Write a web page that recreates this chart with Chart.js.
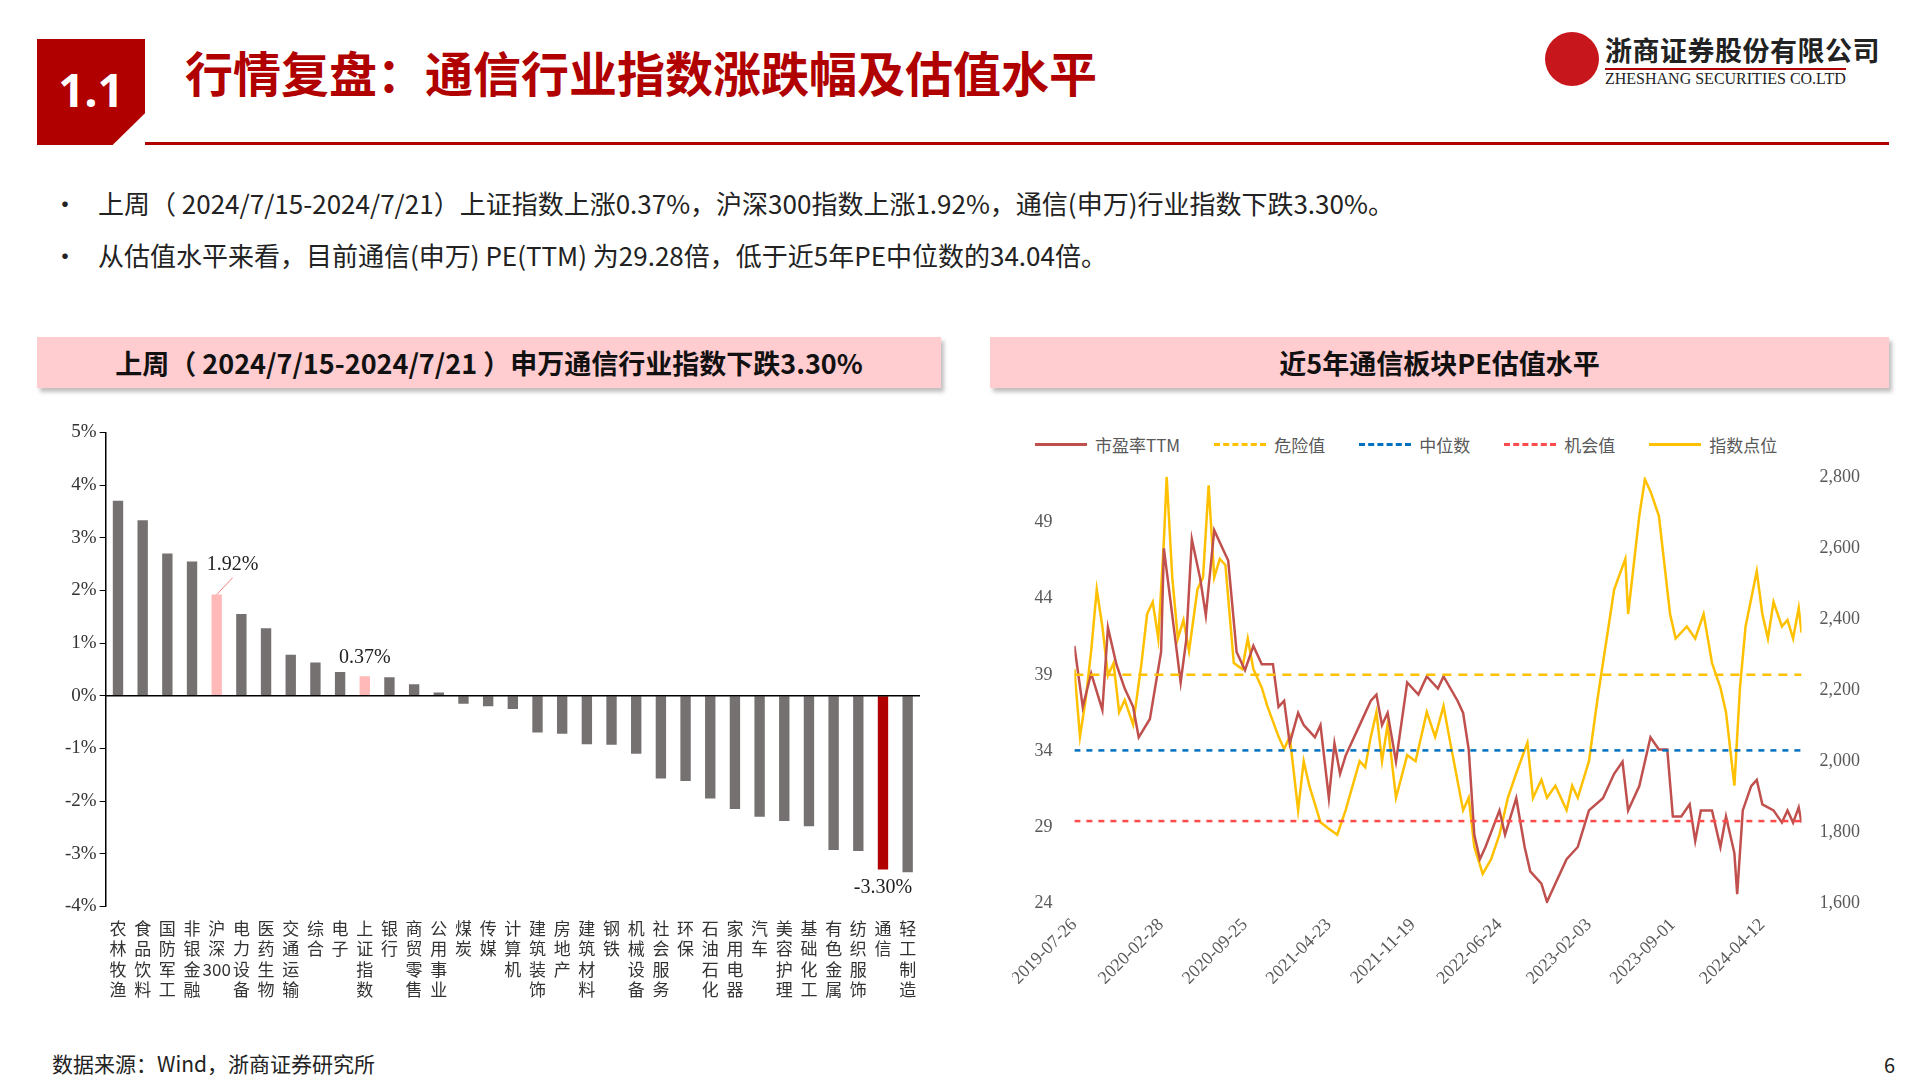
<!DOCTYPE html>
<html>
<head>
<meta charset="utf-8">
<script src="https://cdn.jsdelivr.net/npm/chart.js@4.4.1/dist/chart.umd.min.js"></script>
<style>
  body { margin: 0; width: 1920px; height: 1080px; background: #fff; font-family: "Noto Sans CJK SC", sans-serif; position: relative; overflow: hidden; }
  .abs { position: absolute; }
  #secbox { left: 37px; top: 39px; width: 108px; height: 106px; background: #b00000; color: #fff; font: bold 46px "Noto Sans", sans-serif; line-height: 100px; text-align: center; clip-path: polygon(0 0,100% 0,100% 70%,70% 100%,0 100%); }
  #title { left: 185px; top: 36px; font-size: 48px; font-weight: bold; color: #b00000; }
  #rule { left: 145px; top: 142px; width: 1744px; height: 3px; background: #b00000; }
  #logo { left: 1545px; top: 32px; }
  #logo .cn { position: absolute; left: 60px; top: -2px; font-size: 27px; font-weight: bold; color: #222; white-space: nowrap; letter-spacing: 0.5px; }
  #logo .en { position: absolute; left: 60px; top: 36px; font: 16px "Liberation Serif", serif; color: #222; white-space: nowrap; border-top: 2px solid #b00000; }
  #logo .mark { position: absolute; left: 0; top: 0; width: 54px; height: 54px; border-radius: 50%; background: #c8161d; }
  .bullet { left: 52px; font-size: 26px; color: #222; }
  .bullet span { display: inline-block; width: 46px; }
  .hdr { top: 337px; height: 51px; background: #ffccd0; box-shadow: 3px 4px 4px rgba(0,0,0,0.25); font-size: 27px; font-weight: bold; color: #111; text-align: center; line-height: 51px; }
  #legend { left: 1035px; top: 432px; font: 17px "Noto Sans CJK SC", sans-serif; color: #595959; display: flex; gap: 34px; }
  #legend div { display: flex; align-items: center; gap: 8px; }
  #legend i { display: inline-block; width: 52px; border-top-width: 3px; }
  #foot { left: 52px; top: 1048px; font-size: 21px; color: #222; }
  #pg { left: 1884px; top: 1050px; font-size: 20px; color: #222; }
</style>
</head>
<body>
<div id="secbox" class="abs">1.1</div>
<div id="title" class="abs">行情复盘：通信行业指数涨跌幅及估值水平</div>
<div id="rule" class="abs"></div>
<div id="logo" class="abs"><div class="mark"></div><div class="cn">浙商证券股份有限公司</div><div class="en">ZHESHANG SECURITIES CO.LTD</div></div>
<div class="abs bullet" style="top:184px"><span>•</span>上周（ 2024/7/15-2024/7/21）上证指数上涨0.37%，沪深300指数上涨1.92%，通信(申万)行业指数下跌3.30%。</div>
<div class="abs bullet" style="top:236px"><span>•</span>从估值水平来看，目前通信(申万) PE(TTM) 为29.28倍，低于近5年PE中位数的34.04倍。</div>
<div class="abs hdr" style="left:37px;width:904px">上周（ 2024/7/15-2024/7/21 ）申万通信行业指数下跌3.30%</div>
<div class="abs hdr" style="left:990px;width:899px">近5年通信板块PE估值水平</div>
<div id="legend" class="abs">
  <div><i style="border-top-style:solid;border-color:#c0504d"></i>市盈率TTM</div>
  <div><i style="border-top-style:dashed;border-color:#ffc000"></i>危险值</div>
  <div><i style="border-top-style:dashed;border-color:#0070c0"></i>中位数</div>
  <div><i style="border-top-style:dashed;border-color:#ff4b4b"></i>机会值</div>
  <div><i style="border-top-style:solid;border-color:#ffc000"></i>指数点位</div>
</div>
<div class="abs" style="left:62px;top:418px;width:868px;height:586px"><canvas id="bar"></canvas></div>
<div class="abs" style="left:1012px;top:452px;width:858px;height:540px"><canvas id="line"></canvas></div>
<div id="foot" class="abs">数据来源：Wind，浙商证券研究所</div>
<div id="pg" class="abs">6</div>
<script>
const INDUSTRIES = ["农林牧渔", "食品饮料", "国防军工", "非银金融", "沪深300", "电力设备", "医药生物", "交通运输", "综合", "电子", "上证指数", "银行", "商贸零售", "公用事业", "煤炭", "传媒", "计算机", "建筑装饰", "房地产", "建筑材料", "钢铁", "机械设备", "社会服务", "环保", "石油石化", "家用电器", "汽车", "美容护理", "基础化工", "有色金属", "纺织服饰", "通信", "轻工制造"];
const CHANGES = [3.70, 3.33, 2.70, 2.55, 1.92, 1.55, 1.28, 0.78, 0.63, 0.45, 0.37, 0.35, 0.22, 0.06, -0.15, -0.20, -0.25, -0.70, -0.72, -0.92, -0.93, -1.10, -1.57, -1.62, -1.95, -2.15, -2.30, -2.38, -2.48, -2.93, -2.95, -3.30, -3.35];
const CALLOUTS = { "沪深300": "1.92%", "上证指数": "0.37%", "通信": "-3.30%" };

const PE_WEEKS = [0, 3, 6, 10, 12, 15, 18, 21, 23, 27, 31, 32, 35, 38, 40, 42, 45, 47, 50, 53, 55, 58, 61, 64, 67, 71, 73, 75, 77, 80, 82, 84, 86, 88, 91, 93, 95, 97, 102, 106, 108, 110, 112, 115, 119, 123, 126, 130, 132, 137, 139, 141, 143, 145, 147, 152, 154, 158, 161, 163, 167, 169, 172, 176, 180, 184, 189, 193, 196, 198, 202, 206, 209, 212, 214, 217, 220, 222, 224, 228, 231, 233, 236, 237, 239, 242, 244, 246, 250, 253, 255, 257, 259, 260];
const PE_TTM = [40.9, 36.9, 39.1, 36.7, 42.1, 39.7, 38.1, 36.9, 34.9, 36.1, 40.5, 47.3, 42.9, 38.5, 41.3, 47.9, 45.3, 42.9, 48.5, 47.3, 46.5, 40.5, 39.3, 40.9, 39.7, 39.7, 36.9, 37.3, 34.5, 36.5, 35.7, 35.3, 34.9, 35.7, 30.9, 34.5, 32.5, 33.7, 35.7, 37.3, 37.7, 35.7, 36.5, 33.3, 38.5, 37.7, 38.9, 38.1, 38.9, 37.3, 36.5, 34.1, 28.5, 26.9, 27.7, 30.1, 28.5, 30.9, 27.7, 26.1, 25.3, 24.1, 25.3, 26.9, 27.7, 30.1, 30.9, 32.5, 33.3, 30.1, 31.7, 34.9, 34.1, 34.1, 29.7, 29.7, 30.5, 28.1, 30.1, 30.1, 27.7, 29.7, 27.3, 24.6, 30.1, 31.7, 32.1, 30.5, 30.1, 29.3, 30.1, 29.3, 30.3, 29.3];
const IDX_WEEKS = [0, 2, 4, 6, 8, 10, 12, 14, 16, 18, 21, 24, 26, 28, 30, 32, 33, 35, 37, 39, 41, 44, 46, 48, 50, 52, 54, 57, 60, 62, 64, 67, 69, 73, 75, 77, 80, 82, 84, 88, 91, 94, 97, 102, 104, 106, 108, 110, 112, 115, 119, 122, 126, 129, 132, 134, 139, 141, 143, 146, 149, 152, 155, 158, 162, 164, 167, 169, 172, 176, 178, 180, 184, 187, 189, 191, 193, 197, 198, 202, 204, 206, 209, 211, 213, 215, 219, 222, 225, 228, 231, 233, 236, 238, 240, 244, 246, 248, 250, 253, 255, 257, 259, 260];
const IDX_POINTS = [2259, 2069, 2172, 2310, 2483, 2379, 2241, 2276, 2138, 2172, 2103, 2276, 2414, 2448, 2345, 2620, 2800, 2517, 2345, 2397, 2310, 2483, 2517, 2776, 2517, 2569, 2552, 2276, 2259, 2345, 2259, 2207, 2155, 2069, 2034, 2069, 1862, 2000, 1931, 1828, 1810, 1793, 1862, 2000, 1983, 2069, 2138, 2000, 2103, 1897, 2017, 2000, 2138, 2069, 2155, 2069, 1862, 1897, 1759, 1683, 1724, 1793, 1897, 1966, 2052, 1897, 1948, 1897, 1931, 1862, 1931, 1897, 2000, 2172, 2276, 2379, 2483, 2569, 2414, 2690, 2793, 2759, 2690, 2552, 2414, 2345, 2379, 2345, 2414, 2276, 2207, 2138, 1931, 2207, 2379, 2534, 2414, 2345, 2448, 2379, 2397, 2345, 2431, 2362];
const DANGER = 39.0, MEDIAN = 34.04, CHANCE = 29.4;
const LAST_WEEK = 260;
const TICK_WEEKS = [0, 31, 61, 91, 121, 152, 184, 214, 246];
const TICK_DATES = ["2019-07-26", "2020-02-28", "2020-09-25", "2021-04-23", "2021-11-19", "2022-06-24", "2023-02-03", "2023-09-01", "2024-04-12"];

const SERIF = "'Liberation Serif', 'Noto Serif CJK SC', serif";
const TICK_COLOR = "#595959";

function barColor(name) {
  if (name === "通信") return "#b00000";
  if (name === "沪深300" || name === "上证指数") return "#ffb9b9";
  return "#767171";
}

// stack characters vertically, keep digit runs together
function verticalLabel(name) {
  return name.match(/\d+|./g);
}

const barExtras = {
  id: "barExtras",
  afterDatasetsDraw(chart) {
    const { ctx, scales } = chart;
    const y0 = scales.y.getPixelForValue(0);
    ctx.save();
    ctx.strokeStyle = "#000";
    ctx.lineWidth = 1.5;
    ctx.beginPath();
    ctx.moveTo(chart.chartArea.left, y0);
    ctx.lineTo(chart.chartArea.right, y0);
    ctx.stroke();
    const meta = chart.getDatasetMeta(0);
    ctx.font = "20px " + SERIF;
    ctx.fillStyle = "#222";
    INDUSTRIES.forEach((name, i) => {
      const text = CALLOUTS[name];
      if (!text) return;
      const bar = meta.data[i];
      if (CHANGES[i] < 0) {
        ctx.textAlign = "center";
        ctx.textBaseline = "top";
        ctx.fillText(text, bar.x, bar.y + 8);
      } else if (name === "沪深300") {
        ctx.strokeStyle = "#f08080";
        ctx.lineWidth = 1;
        ctx.beginPath();
        ctx.moveTo(bar.x, bar.y);
        ctx.lineTo(bar.x + 16, bar.y - 17);
        ctx.stroke();
        ctx.textAlign = "left";
        ctx.textBaseline = "bottom";
        ctx.fillText(text, bar.x - 10, bar.y - 20);
      } else {
        ctx.textAlign = "center";
        ctx.textBaseline = "bottom";
        ctx.fillText(text, bar.x, bar.y - 8);
      }
    });
    ctx.restore();
  },
};

new Chart(document.getElementById("bar"), {
  type: "bar",
  data: {
    labels: INDUSTRIES.map(verticalLabel),
    datasets: [{ data: CHANGES, backgroundColor: INDUSTRIES.map(barColor), barPercentage: 0.42, categoryPercentage: 1 }],
  },
  options: {
    responsive: true,
    maintainAspectRatio: false,
    animation: false,
    layout: { padding: { top: 10, right: 10 } },
    plugins: { legend: { display: false }, tooltip: { enabled: false } },
    scales: {
      x: {
        grid: { display: false },
        border: { display: false },
        ticks: { color: "#333", font: { size: 17, family: "'Noto Sans CJK SC'" }, maxRotation: 0, autoSkip: false, padding: 4 },
      },
      y: {
        min: -4,
        max: 5,
        ticks: { stepSize: 1, color: "#333", font: { size: 19, family: SERIF }, callback: (v) => v + "%" },
        grid: { drawOnChartArea: false, color: "#000", tickLength: 6 },
        border: { display: true, color: "#000", width: 1.5 },
      },
    },
  },
  plugins: [barExtras],
});

function flatLine(value) {
  return [{ x: 0, y: value }, { x: LAST_WEEK, y: value }];
}
function toPoints(weeks, values) {
  return weeks.map((w, i) => ({ x: w, y: values[i] }));
}

new Chart(document.getElementById("line"), {
  type: "line",
  data: {
    datasets: [
      { data: toPoints(PE_WEEKS, PE_TTM), borderColor: "#c0504d", borderWidth: 2.5, yAxisID: "y", order: 1 },
      { data: flatLine(DANGER), borderColor: "#ffc000", borderDash: [9, 7], borderWidth: 2.5, yAxisID: "y" },
      { data: flatLine(MEDIAN), borderColor: "#0070c0", borderDash: [6, 6], borderWidth: 2.5, yAxisID: "y" },
      { data: flatLine(CHANCE), borderColor: "#ff4b4b", borderDash: [6, 6], borderWidth: 2.5, yAxisID: "y" },
      { data: toPoints(IDX_WEEKS, IDX_POINTS), borderColor: "#ffc000", borderWidth: 2.5, yAxisID: "y1", order: 2 },
    ],
  },
  options: {
    responsive: true,
    maintainAspectRatio: false,
    animation: false,
    elements: { point: { radius: 0 }, line: { tension: 0 } },
    plugins: { legend: { display: false }, tooltip: { enabled: false } },
    scales: {
      x: {
        type: "linear",
        min: 0,
        max: LAST_WEEK,
        afterBuildTicks: (scale) => { scale.ticks = TICK_WEEKS.map((v) => ({ value: v })); },
        ticks: {
          color: TICK_COLOR,
          font: { size: 18, family: SERIF },
          maxRotation: 45,
          minRotation: 45,
          autoSkip: false,
          callback: (v) => TICK_DATES[TICK_WEEKS.indexOf(v)] || "",
        },
        grid: { display: false },
        border: { display: false },
      },
      y: {
        position: "left",
        min: 24,
        max: 52,
        afterBuildTicks: (scale) => { scale.ticks = [24, 29, 34, 39, 44, 49].map((v) => ({ value: v })); },
        ticks: { color: TICK_COLOR, font: { size: 18, family: SERIF }, padding: 14 },
        grid: { display: false },
        border: { display: false },
      },
      y1: {
        position: "right",
        min: 1600,
        max: 2800,
        ticks: { stepSize: 200, color: TICK_COLOR, font: { size: 18, family: SERIF }, padding: 10, callback: (v) => v.toLocaleString("en-US") },
        grid: { display: false },
        border: { display: false },
      },
    },
  },
});
</script>
</body>
</html>
